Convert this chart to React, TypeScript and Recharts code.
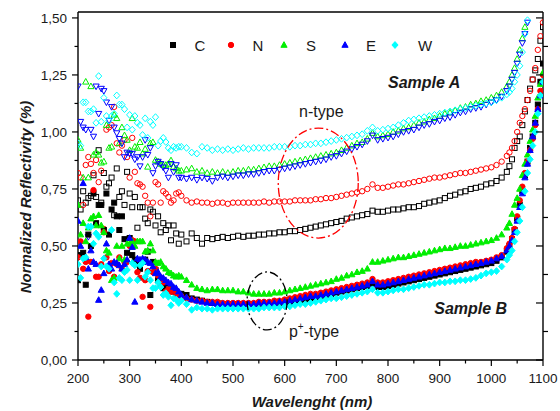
import React from 'react';
import { ScatterChart, Scatter, XAxis, YAxis, ReferenceDot } from 'recharts';

// wavelength grid (nm): 5 nm in the noisy UV part, 10 nm in the plateau, 5 nm in the NIR rise
const wavelength = [
  200, 205, 210, 215, 220, 225, 230, 235, 240, 245,
  250, 255, 260, 265, 270, 275, 280, 285, 290, 295,
  300, 305, 310, 315, 320, 325, 330, 335, 340, 345,
  350, 355, 360, 365, 370, 375, 380, 385, 390, 395,
  400, 410, 420, 430, 440, 450, 460, 470, 480, 490,
  500, 510, 520, 530, 540, 550, 560, 570, 580, 590,
  600, 610, 620, 630, 640, 650, 660, 670, 680, 690,
  700, 710, 720, 730, 740, 750, 760, 770, 780, 790,
  800, 810, 820, 830, 840, 850, 860, 870, 880, 890,
  900, 910, 920, 930, 940, 950, 960, 970, 980, 990,
  1000, 1010, 1020, 1030,
  1035, 1040, 1045, 1050, 1055, 1060, 1065, 1070, 1075, 1080, 1085, 1090, 1095, 1100,
];

// Sample A (open symbols)
const cA = [
  0.70, 0.66, 0.74, 0.69, 0.71, 0.72, 0.81, 0.715, 0.92, 0.69,
  0.82, 0.76, 0.775, 0.80, 0.635, 0.84, 0.715, 0.74, 0.68, 0.825,
  0.73, 0.67, 0.715, 0.58, 0.67, 0.67, 0.62, 0.60, 0.66, 0.65,
  0.59, 0.63, 0.56, 0.60, 0.57, 0.59, 0.525, 0.59, 0.555, 0.51,
  0.55, 0.52, 0.555, 0.535, 0.51, 0.535, 0.53, 0.535, 0.54, 0.535,
  0.54, 0.545, 0.54, 0.545, 0.545, 0.55, 0.55, 0.555, 0.555, 0.56,
  0.56, 0.565, 0.565, 0.57, 0.575, 0.58, 0.585, 0.59, 0.595, 0.60,
  0.605, 0.61, 0.62, 0.625, 0.63, 0.635, 0.64, 0.655, 0.65, 0.65,
  0.655, 0.66, 0.66, 0.665, 0.67, 0.67, 0.675, 0.685, 0.69, 0.695,
  0.70, 0.71, 0.72, 0.725, 0.735, 0.74, 0.75, 0.755, 0.76, 0.77,
  0.775, 0.785, 0.80, 0.825,
  0.85, 0.88, 0.93, 0.96, 0.98, 1.03, 1.09, 1.14, 1.19, 1.23, 1.27, 1.32, 1.40, 1.46,
];
const nA = [
  0.82, 0.80, 0.68, 0.855, 0.89, 0.86, 0.82, 0.877, 0.78, 0.83,
  0.575, 1.01, 1.02, 1.03, 1.11, 0.95, 0.91, 0.94, 0.965, 0.89,
  0.80, 0.974, 0.825, 0.775, 0.77, 0.76, 0.72, 0.69, 0.63, 0.69,
  0.78, 0.77, 0.69, 0.74, 0.73, 0.715, 0.69, 0.70, 0.73, 0.735,
  0.72, 0.70, 0.69, 0.695, 0.69, 0.69, 0.685, 0.69, 0.69, 0.685,
  0.69, 0.69, 0.69, 0.69, 0.69, 0.69, 0.695, 0.69, 0.695, 0.695,
  0.695, 0.695, 0.70, 0.70, 0.70, 0.70, 0.705, 0.705, 0.71, 0.71,
  0.715, 0.72, 0.725, 0.73, 0.735, 0.74, 0.75, 0.77, 0.755, 0.755,
  0.76, 0.765, 0.77, 0.77, 0.775, 0.78, 0.785, 0.79, 0.795, 0.80,
  0.80, 0.805, 0.81, 0.815, 0.82, 0.82, 0.825, 0.83, 0.835, 0.84,
  0.845, 0.855, 0.87, 0.895,
  0.91, 0.93, 0.96, 1.00, 1.04, 1.07, 1.10, 1.14, 1.18, 1.23, 1.28, 1.36, 1.42, 1.48,
];
const sA = [
  0.965, 0.93, 0.80, 1.22, 0.80, 1.20, 0.90, 0.91, 0.90, 0.865,
  0.87, 1.03, 0.93, 0.935, 1.075, 1.06, 0.95, 1.02, 0.985, 0.965,
  0.92, 1.06, 0.935, 0.93, 0.955, 0.905, 0.925, 0.847, 0.95, 0.955,
  0.877, 0.87, 0.86, 0.855, 0.855, 0.86, 0.875, 0.847, 0.84, 0.83,
  0.83, 0.835, 0.84, 0.825, 0.83, 0.82, 0.825, 0.82, 0.825, 0.82,
  0.825, 0.83, 0.83, 0.835, 0.835, 0.84, 0.845, 0.85, 0.85, 0.855,
  0.86, 0.865, 0.87, 0.875, 0.88, 0.885, 0.89, 0.895, 0.90, 0.905,
  0.91, 0.92, 0.93, 0.94, 0.95, 0.955, 0.97, 0.995, 0.98, 0.985,
  0.99, 1.00, 1.005, 1.015, 1.02, 1.03, 1.04, 1.045, 1.055, 1.06,
  1.07, 1.08, 1.085, 1.095, 1.105, 1.11, 1.12, 1.125, 1.135, 1.14,
  1.15, 1.16, 1.175, 1.20,
  1.22, 1.25, 1.28, 1.32, 1.36, 1.41, 1.46, null, null, null, null, null, null, null,
];
const eA = [
  1.20, 1.045, 1.02, 1.01, 0.54, 1.01, 0.98, 1.20, 1.08, 1.19,
  1.18, 1.13, 1.05, 1.11, 1.02, 0.995, 0.97, 0.95, 0.89, 0.91,
  0.905, 0.905, 0.88, 0.89, 0.85, 0.89, 0.965, 0.90, 0.93, 0.82,
  0.85, 0.87, 0.86, 0.845, 0.83, 0.80, 0.86, 0.825, 0.855, 0.80,
  0.80, 0.795, 0.80, 0.79, 0.80, 0.795, 0.785, 0.80, 0.805, 0.80,
  0.805, 0.81, 0.81, 0.815, 0.815, 0.82, 0.825, 0.83, 0.83, 0.835,
  0.84, 0.845, 0.85, 0.855, 0.86, 0.865, 0.87, 0.875, 0.88, 0.89,
  0.895, 0.905, 0.915, 0.925, 0.935, 0.945, 0.96, 0.985, 0.965, 0.97,
  0.975, 0.98, 0.99, 1.00, 1.005, 1.01, 1.02, 1.03, 1.035, 1.045,
  1.05, 1.06, 1.065, 1.075, 1.085, 1.09, 1.10, 1.105, 1.11, 1.12,
  1.13, 1.14, 1.155, 1.18,
  1.20, 1.23, 1.26, 1.30, 1.34, 1.39, 1.43, 1.48, null, null, null, null, null, null,
];
const wA = [
  0.95, 0.94, 1.13, 1.13, 1.09, 1.09, 1.10, 1.04, 1.245, 1.045,
  1.15, 1.07, 1.05, 1.07, 1.08, 1.16, 1.12, 1.12, 1.10, 1.02,
  1.075, 1.01, 1.07, 1.04, 1.03, 0.987, 1.06, 0.974, 1.045, 1.03,
  1.065, 0.94, 0.96, 0.974, 0.956, 0.93, 0.92, 0.935, 0.93, 0.935,
  0.935, 0.93, 0.91, 0.905, 0.935, 0.93, 0.92, 0.925, 0.92, 0.925,
  0.92, 0.925, 0.93, 0.925, 0.93, 0.93, 0.93, 0.93, 0.935, 0.935,
  0.935, 0.935, 0.94, 0.94, 0.945, 0.945, 0.95, 0.95, 0.955, 0.96,
  0.965, 0.97, 0.975, 0.98, 0.985, 0.99, 1.005, 1.02, 1.005, 1.01,
  1.015, 1.02, 1.03, 1.04, 1.05, 1.055, 1.06, 1.065, 1.07, 1.075,
  1.08, 1.085, 1.09, 1.095, 1.10, 1.105, 1.11, 1.115, 1.12, 1.125,
  1.13, 1.14, 1.15, 1.165,
  1.175, 1.19, 1.22, 1.25, 1.29, 1.35, 1.43, 1.49, null, null, null, null, null, null,
];

// Sample B (filled symbols)
const cB = [
  0.35, 0.46, 0.47, 0.33, 0.55, 0.50, 0.73, 0.60, 0.68, 0.68,
  0.57, 0.73, 0.55, 0.66, 0.69, 0.63, 0.57, 0.63, 0.53, 0.47,
  0.535, 0.46, 0.44, 0.42, 0.40, 0.43, 0.44, 0.475, 0.285, 0.43,
  0.395, 0.35, 0.33, 0.315, 0.335, 0.307, 0.31, 0.30, 0.29, 0.29,
  0.29, 0.285, 0.27, 0.265, 0.26, 0.255, 0.25, 0.25, 0.245, 0.245,
  0.245, 0.245, 0.245, 0.245, 0.245, 0.245, 0.245, 0.245, 0.245, 0.25,
  0.25, 0.25, 0.255, 0.26, 0.265, 0.27, 0.275, 0.28, 0.285, 0.29,
  0.295, 0.30, 0.305, 0.31, 0.315, 0.32, 0.325, 0.335, 0.32, 0.32,
  0.325, 0.33, 0.335, 0.34, 0.345, 0.35, 0.355, 0.36, 0.365, 0.37,
  0.375, 0.38, 0.385, 0.39, 0.395, 0.40, 0.405, 0.41, 0.415, 0.42,
  0.425, 0.435, 0.45, 0.475,
  0.50, 0.53, 0.57, 0.62, 0.68, 0.74, 0.81, 0.87, 0.93, 0.98, 1.04, 1.12, 1.22, 1.30,
];
const nB = [
  0.45, 0.52, 0.40, 0.43, 0.19, 0.43, 0.745, 0.365, 0.365, 0.42,
  0.56, 0.45, 0.39, 0.425, 0.365, 0.42, 0.45, 0.40, 0.43, 0.43,
  0.50, 0.525, 0.52, 0.385, 0.36, 0.277, 0.35, 0.39, 0.233, 0.385,
  0.40, 0.37, 0.36, 0.34, 0.30, 0.31, 0.30, 0.307, 0.29, 0.285,
  0.28, 0.27, 0.265, 0.26, 0.26, 0.255, 0.255, 0.255, 0.25, 0.25,
  0.25, 0.25, 0.25, 0.25, 0.25, 0.255, 0.255, 0.255, 0.26, 0.26,
  0.265, 0.27, 0.275, 0.28, 0.285, 0.29, 0.29, 0.295, 0.30, 0.305,
  0.31, 0.315, 0.32, 0.325, 0.33, 0.335, 0.34, 0.355, 0.34, 0.34,
  0.345, 0.35, 0.355, 0.36, 0.365, 0.37, 0.375, 0.38, 0.385, 0.39,
  0.395, 0.40, 0.405, 0.41, 0.415, 0.42, 0.425, 0.43, 0.43, 0.435,
  0.44, 0.45, 0.46, 0.49,
  0.51, 0.535, 0.575, 0.63, 0.70, 0.76, 0.82, 0.87, 0.92, 0.97, 1.03, 1.10, 1.18, 1.25,
];
const sB = [
  0.68, 0.55, 0.60, 0.52, 0.58, 0.62, 0.63, 0.59, 0.635, 0.59,
  0.56, 0.48, 0.47, 0.35, 0.36, 0.50, 0.445, 0.50, 0.44, 0.51,
  0.51, 0.52, 0.50, 0.52, 0.52, 0.52, 0.475, 0.48, 0.51, 0.48,
  0.43, 0.425, 0.43, 0.41, 0.40, 0.385, 0.38, 0.37, 0.365, 0.37,
  0.365, 0.35, 0.33, 0.315, 0.31, 0.305, 0.31, 0.31, 0.305, 0.305,
  0.305, 0.30, 0.30, 0.295, 0.29, 0.29, 0.29, 0.29, 0.295, 0.295,
  0.30, 0.305, 0.31, 0.315, 0.32, 0.325, 0.33, 0.335, 0.34, 0.345,
  0.355, 0.36, 0.37, 0.375, 0.385, 0.39, 0.40, 0.43, 0.43, 0.435,
  0.44, 0.445, 0.45, 0.45, 0.455, 0.46, 0.465, 0.47, 0.475, 0.48,
  0.485, 0.49, 0.49, 0.495, 0.50, 0.50, 0.505, 0.51, 0.515, 0.52,
  0.525, 0.535, 0.55, 0.58,
  0.60, 0.64, 0.68, 0.71, 0.75, 0.81, 0.86, 0.90, 0.96, 1.01, 1.07, 1.15, 1.21, 1.26,
];
const eB = [
  0.61, 0.50, 0.775, 0.45, 0.40, 0.48, 0.43, 0.42, 0.263, 0.307,
  0.38, 0.51, 0.42, 0.40, 0.43, 0.425, 0.415, 0.40, 0.42, 0.44,
  0.535, 0.495, 0.255, 0.445, 0.44, 0.445, 0.44, 0.43, 0.425, 0.41,
  0.38, 0.385, 0.365, 0.36, 0.35, 0.34, 0.335, 0.32, 0.315, 0.30,
  0.285, 0.275, 0.265, 0.26, 0.255, 0.25, 0.25, 0.245, 0.245, 0.245,
  0.245, 0.245, 0.245, 0.245, 0.245, 0.25, 0.25, 0.25, 0.25, 0.255,
  0.255, 0.26, 0.265, 0.27, 0.275, 0.28, 0.28, 0.285, 0.29, 0.295,
  0.30, 0.305, 0.31, 0.315, 0.32, 0.325, 0.33, 0.345, 0.33, 0.33,
  0.335, 0.34, 0.345, 0.35, 0.355, 0.36, 0.365, 0.37, 0.375, 0.38,
  0.385, 0.39, 0.395, 0.40, 0.405, 0.41, 0.415, 0.42, 0.425, 0.43,
  0.435, 0.445, 0.455, 0.48,
  0.50, 0.525, 0.56, 0.61, 0.67, 0.73, 0.80, 0.86, 0.92, 0.98, 1.04, 1.10, 1.16, 1.22,
];
const wB = [
  0.42, 0.36, 0.445, 0.45, 0.585, 0.585, 0.51, 0.555, 0.54, 0.41,
  0.445, 0.41, 0.40, 0.57, 0.34, 0.29, 0.36, 0.35, 0.385, 0.395,
  0.35, 0.425, 0.415, 0.35, 0.415, 0.425, 0.365, 0.385, 0.35, 0.315,
  0.315, 0.34, 0.32, 0.285, 0.293, 0.277, 0.24, 0.27, 0.265, 0.25,
  0.26, 0.245, 0.22, 0.23, 0.225, 0.225, 0.22, 0.225, 0.225, 0.225,
  0.225, 0.225, 0.225, 0.225, 0.225, 0.225, 0.23, 0.23, 0.23, 0.23,
  0.235, 0.235, 0.24, 0.245, 0.245, 0.25, 0.255, 0.26, 0.265, 0.27,
  0.27, 0.275, 0.28, 0.285, 0.29, 0.295, 0.30, 0.31, 0.295, 0.295,
  0.30, 0.305, 0.31, 0.31, 0.315, 0.32, 0.325, 0.33, 0.33, 0.335,
  0.34, 0.34, 0.345, 0.345, 0.35, 0.35, 0.355, 0.36, 0.37, 0.38,
  0.385, 0.39, 0.41, 0.44,
  0.46, 0.48, 0.52, 0.56, 0.61, 0.67, 0.74, 0.82, 0.88, 0.94, 1.00, 1.08, 1.16, 1.22,
];

const xTicks = [200, 250, 300, 350, 400, 450, 500, 550, 600, 650, 700, 750, 800, 850, 900, 950, 1000, 1050, 1100];
const yTicks = [0, 0.125, 0.25, 0.375, 0.5, 0.625, 0.75, 0.875, 1, 1.125, 1.25, 1.375, 1.5];

const FONT = '"Liberation Sans", Arial, Helvetica, sans-serif';
const BLACK = '#000000';
const RED = '#ff0000';
const GREEN = '#00ee00';
const BLUE = '#0000ff';
const CYAN = '#00ffff';

const toPoints = (ys: (number | null)[]) =>
  wavelength
    .map((x, i) => ({ x, y: ys[i] }))
    .filter((p) => p.y !== null && p.y !== undefined);

type Kind = 'square' | 'circle' | 'up' | 'down' | 'diamond';

function Marker({ cx, cy, kind, color, filled }: { cx: number; cy: number; kind: Kind; color: string; filled: boolean }) {
  if (cx == null || cy == null) return <g />;
  const fill = filled ? color : 'none';
  const common = { fill, stroke: color, strokeWidth: 1 };
  if (kind === 'square') return <rect x={cx - 2.5} y={cy - 2.5} width={5} height={5} {...common} />;
  if (kind === 'circle') return <circle cx={cx} cy={cy} r={2.7} {...common} />;
  if (kind === 'up')
    return <polygon points={`${cx},${cy - 3.3} ${cx + 3.1},${cy + 2.3} ${cx - 3.1},${cy + 2.3}`} {...common} />;
  if (kind === 'down')
    return <polygon points={`${cx},${cy + 3.3} ${cx + 3.1},${cy - 2.3} ${cx - 3.1},${cy - 2.3}`} {...common} />;
  return <polygon points={`${cx},${cy - 3.4} ${cx + 3.1},${cy} ${cx},${cy + 3.4} ${cx - 3.1},${cy}`} {...common} />;
}

const shapeFor = (kind: Kind, color: string, filled: boolean) => (props: any) => (
  <Marker cx={props.cx} cy={props.cy} kind={kind} color={color} filled={filled} />
);

const series = [
  { name: 'C-A', data: toPoints(cA), kind: 'square' as Kind, color: BLACK, filled: false },
  { name: 'N-A', data: toPoints(nA), kind: 'circle' as Kind, color: RED, filled: false },
  { name: 'S-A', data: toPoints(sA), kind: 'up' as Kind, color: GREEN, filled: false },
  { name: 'E-A', data: toPoints(eA), kind: 'down' as Kind, color: BLUE, filled: false },
  { name: 'W-A', data: toPoints(wA), kind: 'diamond' as Kind, color: CYAN, filled: false },
  { name: 'C-B', data: toPoints(cB), kind: 'square' as Kind, color: BLACK, filled: true },
  { name: 'N-B', data: toPoints(nB), kind: 'circle' as Kind, color: RED, filled: true },
  { name: 'S-B', data: toPoints(sB), kind: 'up' as Kind, color: GREEN, filled: true },
  { name: 'E-B', data: toPoints(eB), kind: 'up' as Kind, color: BLUE, filled: true },
  { name: 'W-B', data: toPoints(wB), kind: 'diamond' as Kind, color: CYAN, filled: true },
];

const legendItems = [
  { label: 'C', kind: 'square' as Kind, color: BLACK, mx: 173, tx: 200 },
  { label: 'N', kind: 'circle' as Kind, color: RED, mx: 231, tx: 258 },
  { label: 'S', kind: 'up' as Kind, color: GREEN, mx: 284, tx: 311 },
  { label: 'E', kind: 'up' as Kind, color: BLUE, mx: 345, tx: 371 },
  { label: 'W', kind: 'diamond' as Kind, color: CYAN, mx: 395, tx: 425 },
];

const fmt = (v: number) => v.toFixed(2).replace('.', ',');

const BottomTick = (props: any) => {
  const { x, y, payload } = props;
  const v = payload.value;
  const major = v % 100 === 0;
  return (
    <g>
      <line x1={x} x2={x} y1={y} y2={y + (major ? 6 : 3.5)} stroke={BLACK} strokeWidth={1.2} />
      {major && (
        <text x={x} y={y + 23} textAnchor="middle" fontSize={13.5} fontFamily={FONT} fill="#1a1a1a">
          {v}
        </text>
      )}
    </g>
  );
};

const TopTick = (props: any) => {
  const { x, y, payload } = props;
  const major = payload.value % 100 === 0;
  return <line x1={x} x2={x} y1={y} y2={y + (major ? 7 : 4)} stroke={BLACK} strokeWidth={1.2} />;
};

const LeftTick = (props: any) => {
  const { x, y, payload } = props;
  const v = payload.value;
  const major = Math.abs((v * 4) % 1) < 1e-6;
  return (
    <g>
      <line x1={x - (major ? 6 : 3.5)} x2={x} y1={y} y2={y} stroke={BLACK} strokeWidth={1.2} />
      {major && (
        <text x={x - 11} y={y + 5} textAnchor="end" fontSize={13.5} fontFamily={FONT} fill="#1a1a1a">
          {fmt(v)}
        </text>
      )}
    </g>
  );
};

const RightTick = (props: any) => {
  const { x, y, payload } = props;
  const major = Math.abs((payload.value * 4) % 1) < 1e-6;
  return <line x1={x - (major ? 7 : 0)} x2={x + (major ? 0 : 5)} y1={y} y2={y} stroke={BLACK} strokeWidth={1.2} />;
};

const Ellipse = (rx: number, ry: number, color: string) => (props: any) => (
  <ellipse
    cx={props.cx}
    cy={props.cy}
    rx={rx}
    ry={ry}
    fill="none"
    stroke={color}
    strokeWidth={1.3}
    strokeDasharray="9 3 2 3"
  />
);

const Label = (text: React.ReactNode, size: number, bold: boolean) => (props: any) => (
  <text
    x={props.cx}
    y={props.cy + size * 0.36}
    textAnchor="middle"
    fontSize={size}
    fontFamily={FONT}
    fontWeight={bold ? 'bold' : 'normal'}
    fontStyle={bold ? 'italic' : 'normal'}
    fill="#1a1a1a"
  >
    {text}
  </text>
);

export default function App() {
  const axisLine = { stroke: BLACK, strokeWidth: 1.4 };
  return (
    <div style={{ position: 'relative', width: 560, height: 411, background: '#fff' }}>
      <style>{'body{margin:0;background:#fff}'}</style>
      <ScatterChart width={560} height={411} margin={{ top: 11, right: 16, bottom: 0, left: 0 }}>
        <XAxis
          xAxisId={0}
          type="number"
          dataKey="x"
          domain={[200, 1100]}
          ticks={xTicks}
          interval={0}
          allowDataOverflow
          height={51}
          tickSize={0}
          tickMargin={0}
          tickLine={false}
          axisLine={axisLine}
          tick={<BottomTick />}
        />
        <XAxis
          xAxisId="top"
          orientation="top"
          type="number"
          domain={[200, 1100]}
          ticks={xTicks}
          interval={0}
          allowDataOverflow
          height={1}
          tickSize={0}
          tickMargin={0}
          tickLine={false}
          axisLine={axisLine}
          tick={<TopTick />}
        />
        <YAxis
          yAxisId={0}
          type="number"
          dataKey="y"
          domain={[0, 1.526]}
          ticks={yTicks}
          interval={0}
          allowDataOverflow
          width={78}
          tickSize={0}
          tickMargin={0}
          tickLine={false}
          axisLine={axisLine}
          tick={<LeftTick />}
        />
        <YAxis
          yAxisId="right"
          orientation="right"
          type="number"
          domain={[0, 1.526]}
          ticks={yTicks}
          interval={0}
          allowDataOverflow
          width={1}
          tickSize={0}
          tickMargin={0}
          tickLine={false}
          axisLine={axisLine}
          tick={<RightTick />}
        />
        {series.map((s) => (
          <Scatter
            key={s.name}
            name={s.name}
            data={s.data}
            xAxisId={0}
            yAxisId={0}
            isAnimationActive={false}
            shape={shapeFor(s.kind, s.color, s.filled)}
          />
        ))}
        <ReferenceDot xAxisId={0} yAxisId={0} x={665} y={0.776} r={0} ifOverflow="visible" shape={Ellipse(40, 55, RED)} />
        <ReferenceDot xAxisId={0} yAxisId={0} x={566} y={0.259} r={0} ifOverflow="visible" shape={Ellipse(20, 29, BLACK)} />
        <ReferenceDot xAxisId={0} yAxisId={0} x={671} y={1.09} r={0} ifOverflow="visible" shape={Label('n-type', 16, false)} />
        <ReferenceDot
          xAxisId={0}
          yAxisId={0}
          x={657}
          y={0.125}
          r={0}
          ifOverflow="visible"
          shape={Label(
            <>
              p<tspan dy={-7} fontSize={10}>+</tspan>
              <tspan dy={7}>-type</tspan>
            </>,
            16,
            false,
          )}
        />
        <ReferenceDot xAxisId={0} yAxisId={0} x={870} y={1.22} r={0} ifOverflow="visible" shape={Label('Sample A', 16, true)} />
        <ReferenceDot xAxisId={0} yAxisId={0} x={960} y={0.228} r={0} ifOverflow="visible" shape={Label('Sample B', 16, true)} />
      </ScatterChart>
      <svg width={560} height={411} style={{ position: 'absolute', left: 0, top: 0, pointerEvents: 'none' }}>
        {legendItems.map((it) => (
          <g key={it.label}>
            <Marker cx={it.mx} cy={45} kind={it.kind} color={it.color} filled />
            <text x={it.tx} y={50.5} textAnchor="middle" fontSize={15} fontFamily={FONT} fill="#1a1a1a">
              {it.label}
            </text>
          </g>
        ))}
        <text
          x={25}
          y={197}
          transform="rotate(-90 25 197)"
          textAnchor="middle"
          dominantBaseline="central"
          fontSize={15}
          fontFamily={FONT}
          fontWeight="bold"
          fontStyle="italic"
          fill="#1a1a1a"
        >
          Normalized Reflectivity (%)
        </text>
        <text
          x={312}
          y={407}
          textAnchor="middle"
          fontSize={15}
          fontFamily={FONT}
          fontWeight="bold"
          fontStyle="italic"
          fill="#1a1a1a"
        >
          Wavelenght (nm)
        </text>
      </svg>
    </div>
  );
}
